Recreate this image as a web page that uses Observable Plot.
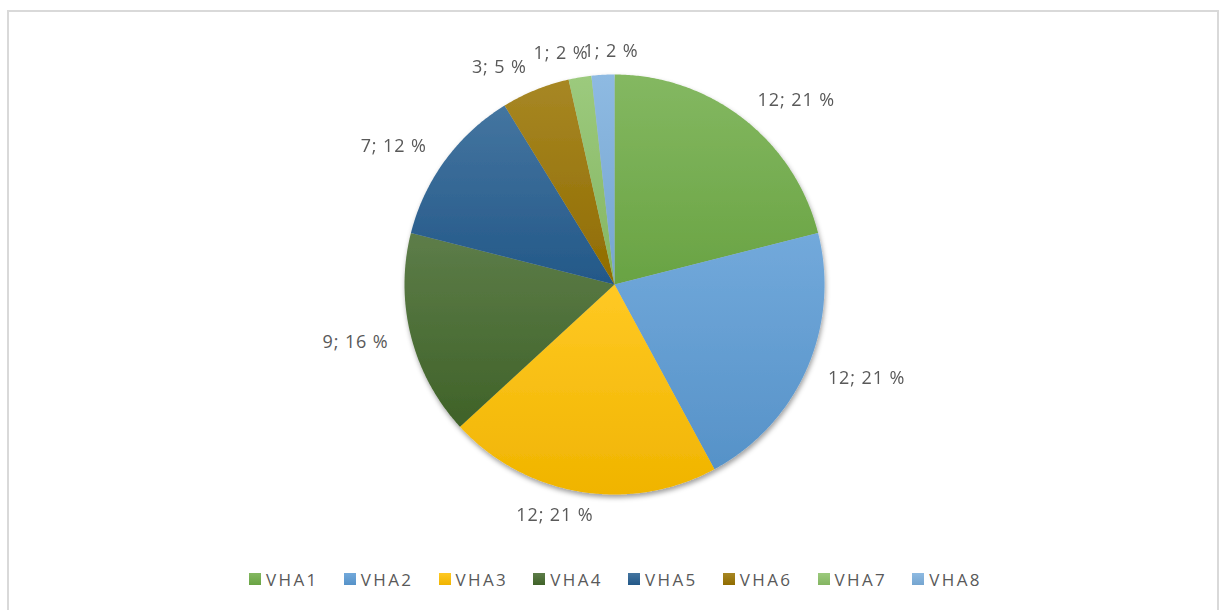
<!DOCTYPE html>
<html><head><meta charset="utf-8">
<script src="https://cdn.jsdelivr.net/npm/d3@7"></script>
<script src="https://cdn.jsdelivr.net/npm/@observablehq/plot@0.6"></script>
<style>
html,body{margin:0;padding:0;background:#fff}
body{width:1219px;height:610px;overflow:hidden;position:relative;font-family:"Open Sans",sans-serif}
#frame{position:absolute;left:7px;top:10px;width:1208px;height:700px;border:2px solid #d9d9d9}
#chart{position:absolute;left:0;top:0}
#chart text{letter-spacing:0.9px}
#legend{position:absolute;left:249px;top:570px;display:flex;align-items:center;gap:25px;height:20px}
.item{display:flex;align-items:center;height:20px;font-size:17px;line-height:20px;color:#595959;letter-spacing:2.4px}
.sw{width:12px;height:12px;margin-right:5px;position:relative;top:-1.5px}
</style></head><body>
<div id="frame"></div>
<div id="chart"></div>
<div id="legend"></div>
<script>
const categories = ["VHA1","VHA2","VHA3","VHA4","VHA5","VHA6","VHA7","VHA8"];
const values = [12, 12, 12, 9, 7, 3, 1, 1];
const colors = ["#70AD47","#5B9BD5","#FFC000","#43682B","#255E91","#997300","#8CC168","#7CAFDD"];

const W = 1219, H = 560, CX = 614, CY = 284, R = 210;
const total = d3.sum(values);
const arcs = d3.pie().sort(null).value(d => d)(values);

function mix(c, t, k){ const a = d3.rgb(c), b = d3.rgb(t); return d3.rgb(a.r+(b.r-a.r)*k, a.g+(b.g-a.g)*k, a.b+(b.b-a.b)*k).formatHex(); }
const lightTop = c => mix(c, "#ffffff", 0.14);
const darkBot = c => mix(c, "#000000", 0.06);

// slice polygons (unit radius = 1)
const slices = arcs.map((a, i) => {
  const n = Math.max(2, Math.ceil((a.endAngle - a.startAngle) / (Math.PI / 360)));
  const pts = [{x: 0, y: 0}];
  for (let k = 0; k <= n; k++) {
    const t = a.startAngle + (a.endAngle - a.startAngle) * k / n;
    pts.push({x: Math.sin(t), y: Math.cos(t)});
  }
  pts.push({x: 0, y: 0});
  return pts;
});

// labels, outside end (pixel offsets from pie centre)
const ctx = document.createElement("canvas").getContext("2d");
ctx.font = '18px "Open Sans"';
const lab = arcs.map((a, i) => {
  const v = values[i];
  const text = `${v}; ${Math.round(v / total * 100)} %`;
  const w = ctx.measureText(text).width + text.length * 0.9;
  const m = (a.startAngle + a.endAngle) / 2;
  const s = Math.sin(m), c = Math.cos(m);
  const sx = Math.max(-1, Math.min(1, s / 0.3));
  return {text, w, px: (R + 23) * s + (w / 2) * sx, py: (R + 24) * c};
});
// simple collision push (allow a small overlap, like the reference)
for (let i = 1; i < lab.length; i++) {
  const p = lab[i - 1], q = lab[i];
  if (Math.abs(p.py - q.py) < 16) {
    const minD = (p.w + q.w) / 2 - 5;
    if (q.px > p.px - 1e-9 || Math.abs(q.px - p.px) < minD) {
      if (q.px - p.px < minD && q.px >= p.px - minD) q.px = p.px + minD;
    }
  }
}
const labels = lab.map(d => ({text: d.text, x: d.px / R, y: d.py / R}));

const marks = slices.map((pts, i) => Plot.line(pts, {x: "x", y: "y", fill: colors[i], stroke: "none", curve: "linear"}));
marks.push(Plot.text(labels, {x: "x", y: "y", text: "text", fontSize: 18, fill: "#595959", textAnchor: "middle", fontFamily: "Open Sans"}));

const svg = Plot.plot({
  width: W, height: H, margin: 0,
  x: {domain: [-CX / R, (W - CX) / R], axis: null},
  y: {domain: [-(H - CY) / R, CY / R], axis: null},
  style: {background: "transparent", fontFamily: "Open Sans"},
  marks
});
document.getElementById("chart").appendChild(svg);

// gradients + shadow
const sel = d3.select(svg);
const defs = sel.insert("defs", ":first-child");
const f = defs.append("filter").attr("id", "shadow").attr("x", "-10%").attr("y", "-10%").attr("width", "120%").attr("height", "120%");
f.append("feDropShadow").attr("dx", 1).attr("dy", 3).attr("stdDeviation", 2.5).attr("flood-color", "#000").attr("flood-opacity", 0.38);
colors.forEach((c, i) => {
  const g = defs.append("linearGradient").attr("id", "grad" + i).attr("x1", 0).attr("y1", 0).attr("x2", 0).attr("y2", 1);
  g.append("stop").attr("offset", "0%").attr("stop-color", lightTop(c));
  g.append("stop").attr("offset", "100%").attr("stop-color", darkBot(c));
});
const lineGroups = svg.querySelectorAll('g[aria-label="line"]');
const pieGroup = sel.insert("g", 'g[aria-label="line"]').attr("filter", "url(#shadow)");
lineGroups.forEach((g, i) => {
  g.querySelectorAll("path").forEach(p => p.setAttribute("fill", `url(#grad${i})`));
  pieGroup.node().appendChild(g);
});

// legend
const legend = d3.select("#legend");
categories.forEach((name, i) => {
  const it = legend.append("div").attr("class", "item");
  it.append("div").attr("class", "sw").style("background", `linear-gradient(${lightTop(colors[i])}, ${darkBot(colors[i])})`);
  it.append("span").text(name);
});
</script>
</body></html>
